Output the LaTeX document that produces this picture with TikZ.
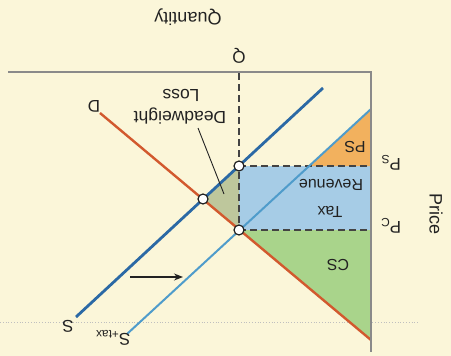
\documentclass[tikz,border=0pt]{standalone}
\usepackage{fontspec}
\setmainfont{Liberation Sans}
\usetikzlibrary{arrows.meta}
\definecolor{bgc}{HTML}{FBF6D9}
\definecolor{csg}{HTML}{A9D48B}
\definecolor{trb}{HTML}{A6CCE6}
\definecolor{pso}{HTML}{F2B15E}
\definecolor{dwl}{HTML}{BEC79C}
\definecolor{sdark}{HTML}{2B69A5}
\definecolor{slight}{HTML}{4F9CCB}
\definecolor{dred}{HTML}{D2592E}
\definecolor{axisg}{HTML}{8A8A8A}
\definecolor{ink}{HTML}{222222}
\tikzset{
  lbl/.style={rotate=180, text=ink, inner sep=0pt, font=\fontsize{16}{20}\selectfont, align=center},
  dot/.style={circle, draw=ink, fill=white, line width=1.2pt, minimum size=10pt, inner sep=0pt},
  guide/.style={dashed, dash pattern=on 7pt off 4pt, draw=ink!85, line width=1.1pt},
}
\begin{document}
\begin{tikzpicture}[x=1pt, y=-1pt]
\fill[bgc] (0,0) rectangle (451,356);
\useasboundingbox (0,0) rectangle (451,356);
% faint dotted line
\draw[black!25, dotted, line width=0.8pt] (0,322) -- (418,322);
% coordinates
\coordinate (O) at (371,72);
\coordinate (Qend) at (8,72);
\coordinate (Pend) at (371,352);
\coordinate (Ps) at (239,166);
\coordinate (Pc) at (239,230);
\coordinate (E) at (203,199);
\coordinate (Qtop) at (239,73);
\coordinate (PsAx) at (371,166);
\coordinate (PcAx) at (371,230);
\coordinate (Dend) at (371,340);
\coordinate (Stx) at (371,109);
\coordinate (Spt) at (309.5,166);
% areas
\fill[csg] (Pc) -- (PcAx) -- (Dend) -- cycle;
\fill[trb] (Ps) rectangle (PcAx);
\fill[pso] (Spt) -- (PsAx) -- (Stx) -- cycle;
\fill[dwl] (E) -- (Ps) -- (Pc) -- cycle;
% dashed guides
\draw[guide] (Qtop) -- (Pc);
\draw[guide] (Ps) -- (PsAx);
\draw[guide] (Pc) -- (PcAx);
% curves
\coordinate (Da) at (100,113);
\coordinate (Sa) at (76,317);
\coordinate (Sb) at (323,88);
\coordinate (Ta) at (127,334);
\draw[dred, line width=2.4pt] (Da) -- (Dend);
\draw[slight, line width=2pt] (Ta) -- (Stx);
\draw[sdark, line width=2.8pt] (Sa) -- (Sb);
% axes
\draw[axisg, line width=2pt] (Qend) -- (O) -- (Pend);
% leader
\coordinate (Lt) at (198,128);
\coordinate (Lb) at (224,194);
\draw[ink, line width=0.9pt] (Lt) -- (Lb);
% arrow
\coordinate (Aa) at (130,277);
\coordinate (Ab) at (183,277);
\draw[ink, line width=1.4pt, -{Stealth[length=9pt,width=7pt]}] (Aa) -- (Ab);
% points
\node[dot] (ps) at (Ps) {};
\node[dot] (eq) at (E) {};
\node[dot] (pc) at (Pc) {};
% labels
\node[lbl, font=\fontsize{18}{20}\selectfont] (quant) at (188,17) {Quantity};
\node[lbl, font=\fontsize{17}{20}\selectfont] (q) at (239,56) {Q};
\node[lbl, font=\fontsize{17.5}{20}\selectfont] (dwl1) at (180,116) {Deadweight};
\node[lbl, font=\fontsize{17.5}{20}\selectfont] (dwl2) at (181,95) {Loss};
\node[lbl, font=\fontsize{17}{20}\selectfont] (dl) at (94,106) {D};
\node[lbl] (psl) at (355,147) {PS};
\node[lbl] (tr2) at (331,185) {Revenue};
\node[lbl] (tr1) at (330,212) {Tax};
\node[lbl] (csl) at (338,265) {CS};
\node[lbl, font=\fontsize{17}{20}\selectfont] (pslab) at (391,163) {P\textsubscript{S}};
\node[lbl, font=\fontsize{17}{20}\selectfont] (pclab) at (391,226) {P\textsubscript{C}};
\node[rotate=-90, text=ink, inner sep=0pt, font=\fontsize{18}{20}\selectfont] (price) at (436,214) {Price};
\node[lbl, font=\fontsize{17}{20}\selectfont] (sl) at (68,326) {S};
\node[lbl, font=\fontsize{17}{20}\selectfont] (stl) at (113,338) {S\textsubscript{+tax}};
\end{tikzpicture}
\end{document}
